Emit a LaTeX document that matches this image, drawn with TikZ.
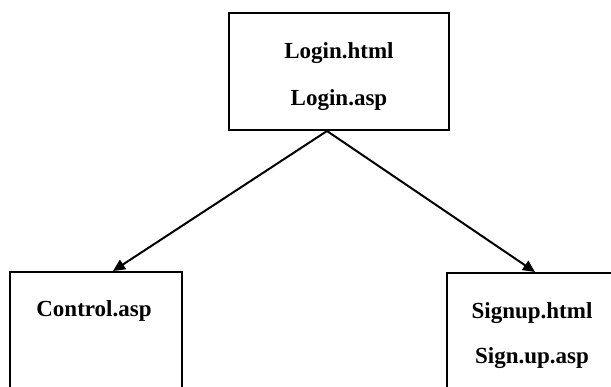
\documentclass[tikz,border=0pt]{standalone}
\usepackage{fontspec}
\setmainfont{Liberation Serif}
\usetikzlibrary{arrows.meta,calc}
\begin{document}
\begin{tikzpicture}[x=1pt,y=-1pt,
  box/.style={draw=black,line width=2pt,rectangle,inner sep=0pt},
  lbl/.style={font=\fontsize{23}{27}\selectfont\bfseries,inner sep=0pt,anchor=base},
  conn/.style={draw=black,line width=2pt,-{Triangle[length=12pt,width=11pt]}}]
\useasboundingbox (0,0) rectangle (611,386);
\clip (0,0) rectangle (611,386);
\fill[white] (0,0) rectangle (611,386);
\node[box,minimum width=220pt,minimum height=117pt] (login) at (339,71.5) {};
\node[box,minimum width=172pt,minimum height=160pt] (ctrl) at (96,352) {};
\node[box,minimum width=176pt,minimum height=160pt] (sign) at (535,353) {};
\node[lbl] (t1) at (339,58) {Login.html};
\node[lbl] (t2) at (339,105) {Login.asp};
\node[lbl] (t3) at (94,316) {Control.asp};
\node[lbl] (t4) at (532,318) {Signup.html};
\node[lbl] (t5) at (532,363) {Sign.up.asp};
\draw[conn] ([xshift=-12pt]login.south) -- ([xshift=17pt]ctrl.north);
\draw[conn] ([xshift=-12pt]login.south) -- (sign.north);
\end{tikzpicture}
\end{document}
